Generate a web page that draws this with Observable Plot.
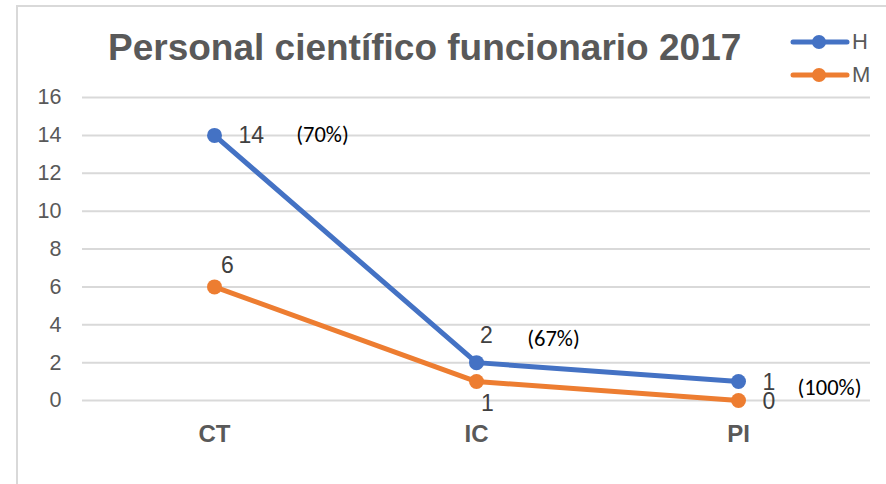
<!DOCTYPE html>
<html>
<head>
<meta charset="utf-8">
<script src="https://cdn.jsdelivr.net/npm/d3@7"></script>
<script src="https://cdn.jsdelivr.net/npm/@observablehq/plot@0.6"></script>
<style>
  html, body { margin: 0; padding: 0; background: #fff; }
  body { width: 886px; height: 484px; position: relative; overflow: hidden; font-family: "Liberation Sans", Arial, sans-serif; }
  #frame { position: absolute; left: 16px; top: 5px; width: 900px; height: 500px; border: 2px solid #d9d9d9; box-sizing: border-box; }
  #chart { position: absolute; left: 0; top: 0; }
  #title { position: absolute; left: 108px; top: 29px; font-size: 37px; line-height: 37px; font-weight: bold; color: #595959; white-space: nowrap; }
  .leg { position: absolute; left: 790px; display: flex; align-items: center; font-size: 22px; color: #595959; }
  .leg span { margin-left: 2px; }
</style>
</head>
<body>
<div id="frame"></div>
<div id="chart"></div>
<div id="title">Personal científico funcionario 2017</div>
<div class="leg" style="top:29px"><svg width="60" height="24"><line x1="3" y1="12" x2="57" y2="12" stroke="#4472C4" stroke-width="5" stroke-linecap="round"/><circle cx="29" cy="12" r="7" fill="#4472C4"/></svg><span>H</span></div>
<div class="leg" style="top:62px"><svg width="60" height="24"><line x1="3" y1="12" x2="57" y2="12" stroke="#ED7D31" stroke-width="5" stroke-linecap="round"/><circle cx="29" cy="12" r="7" fill="#ED7D31"/></svg><span>M</span></div>
<script>
const categories = ["CT", "IC", "PI"];
const seriesNames = ["H", "M"];
const hombres = [14, 2, 1];
const mujeres = [6, 1, 0];
const porcentajes = ["(70%)", "(67%)", "(100%)"];
const yTicks = [0, 2, 4, 6, 8, 10, 12, 14, 16];

const colors = {H: "#4472C4", M: "#ED7D31"};
const rows = [];
categories.forEach((c, i) => {
  rows.push({cat: c, serie: "H", value: hombres[i], i});
  rows.push({cat: c, serie: "M", value: mujeres[i], i});
});

// label placement (style, separate from data)
const hOffsets = [[24, 0, "start"], [10, -27, "middle"], [24, 1, "start"]];
const mOffsets = [[13, -21, "middle"], [11, 22, "middle"], [24, 1, "start"]];
const pctOffsets = [[108, -1], [77, -24], [91, 6]];

const labelMarks = [];
categories.forEach((c, i) => {
  const [hdx, hdy, ha] = hOffsets[i];
  labelMarks.push(Plot.text([i], {x: j => categories[j], y: j => hombres[j], text: j => String(hombres[j]),
    dx: hdx, dy: hdy, textAnchor: ha, fontSize: 23, fill: "#404040"}));
  const [mdx, mdy, ma] = mOffsets[i];
  labelMarks.push(Plot.text([i], {x: j => categories[j], y: j => mujeres[j], text: j => String(mujeres[j]),
    dx: mdx, dy: mdy, textAnchor: ma, fontSize: 23, fill: "#404040"}));
  const [pdx, pdy] = pctOffsets[i];
  labelMarks.push(Plot.text([i], {x: j => categories[j], y: j => hombres[j], text: j => porcentajes[j],
    dx: pdx, dy: pdy, fontSize: 22.5, fill: "#000", fontFamily: "Carlito, Lato, 'Open Sans', sans-serif"}));
});

const chart = Plot.plot({
  width: 886,
  height: 484,
  marginLeft: 82,
  marginRight: 16,
  marginTop: 97,
  marginBottom: 84,
  style: {fontFamily: "'Liberation Sans', Arial, sans-serif", fontSize: "21px", color: "#595959", background: "transparent", overflow: "visible"},
  x: {type: "point", domain: categories, padding: 0.5, label: null},
  y: {domain: [0, 16], label: null},
  marks: [
    Plot.gridY(yTicks, {stroke: "#d9d9d9", strokeOpacity: 1, strokeWidth: 2}),
    Plot.axisY(yTicks, {tickSize: 0, tickPadding: 21, fontSize: 21.5, label: null, fill: "#595959"}),
    Plot.axisX({tickSize: 0, tickPadding: 24, fontSize: 24, fontWeight: "bold", label: null, fill: "#595959"}),
    Plot.line(rows, {x: "cat", y: "value", z: "serie", stroke: d => colors[d.serie], strokeWidth: 5, strokeLinejoin: "round", strokeLinecap: "round"}),
    Plot.dot(rows, {x: "cat", y: "value", r: 7.5, fill: d => colors[d.serie], stroke: "none"}),
    ...labelMarks
  ]
});
document.getElementById("chart").appendChild(chart);
</script>
</body>
</html>
